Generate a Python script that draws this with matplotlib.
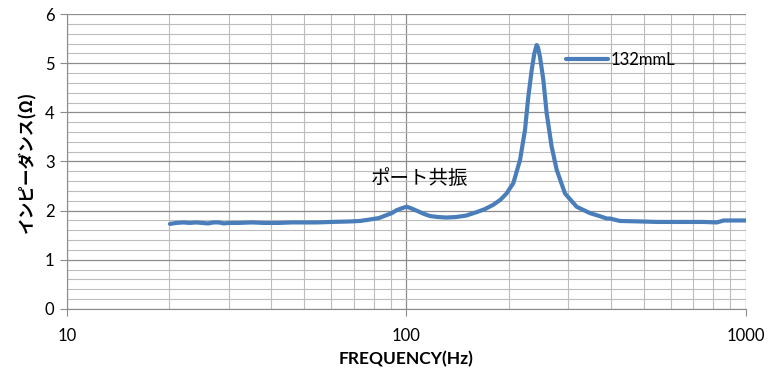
import numpy as np
import matplotlib.pyplot as plt
from matplotlib.ticker import FixedLocator, LogLocator, NullFormatter

# impedance curve
freq = [20.1, 21, 22, 23, 24, 25, 26, 27, 28, 29, 30, 32, 35, 38, 42, 46, 50, 54.4,
        60, 68.2, 73, 78.1, 83, 87.4, 90.5, 93.6, 97, 100.1, 103, 107.1, 112, 117.3,
        124, 131, 140, 150, 161, 170, 180.2, 189, 197.2, 206.4, 216, 223.4, 228.5,
        233.8, 238, 241.8, 244, 247.3, 253, 258.8, 267.7, 277, 293, 317, 347, 370,
        389, 397.6, 425, 487, 550, 650, 750, 820, 860, 920, 1000]
imp = [1.73, 1.75, 1.76, 1.75, 1.76, 1.75, 1.74, 1.76, 1.76, 1.74, 1.75, 1.75, 1.76,
       1.75, 1.75, 1.76, 1.76, 1.76, 1.77, 1.78, 1.79, 1.82, 1.85, 1.91, 1.95, 2.01,
       2.05, 2.08, 2.05, 2.00, 1.94, 1.89, 1.87, 1.86, 1.87, 1.90, 1.97, 2.03, 2.12,
       2.22, 2.35, 2.56, 3.03, 3.64, 4.32, 4.86, 5.20, 5.37, 5.32, 5.13, 4.66, 3.98,
       3.30, 2.83, 2.35, 2.08, 1.95, 1.89, 1.84, 1.84, 1.79, 1.78, 1.77, 1.77, 1.77,
       1.76, 1.80, 1.80, 1.80]

series_name = '132mmL'
x_ticks = [10, 100, 1000]
y_ticks = [0, 1, 2, 3, 4, 5, 6]

jp = ['Noto Sans CJK JP', 'DejaVu Sans']

fig = plt.figure(figsize=(7.79, 3.80), dpi=100)
ax = fig.add_axes([0.086, 0.187, 0.8716, 0.776])

ax.plot(freq, imp, color='#4a7ebb', lw=3.0, label=series_name, solid_capstyle='round')

ax.set_xscale('log')
ax.set_xlim(10, 1000)
ax.set_ylim(0, 6)

ax.xaxis.set_major_locator(FixedLocator(x_ticks))
ax.set_xticklabels([str(v) for v in x_ticks])
ax.xaxis.set_minor_locator(LogLocator(base=10, subs=np.arange(2, 10)))
ax.xaxis.set_minor_formatter(NullFormatter())
ax.set_yticks(y_ticks)
ax.yaxis.set_minor_locator(FixedLocator(np.arange(0, 6.01, 0.2)))

ax.grid(which='major', color='#8c8c8c', lw=0.9)
ax.grid(which='minor', color='#bdbdbd', lw=0.8)
ax.set_axisbelow(True)

ax.tick_params(which='major', length=5, color='#8c8c8c', labelsize=12, pad=4)
ax.tick_params(which='minor', length=0)
for lab in ax.get_xticklabels() + ax.get_yticklabels():
    lab.set_family('Lato')
ax.tick_params(axis='x', pad=9)

for side in ['top', 'right']:
    ax.spines[side].set_visible(False)
for side in ['left', 'bottom']:
    ax.spines[side].set_color('#8c8c8c')

ax.set_xlabel('FREQUENCY(Hz)', fontsize=12.5, fontweight='bold', family='Lato', labelpad=5)
ax.set_ylabel('インピーダンス(Ω)', fontsize=12, fontweight='bold', family=jp, labelpad=6)

ax.text(78.6, 2.66, 'ポート共振', fontsize=14, family=jp, ha='left', va='center')

ax.legend(loc='center left', bbox_to_anchor=(0.735, 0.844), frameon=False,
          handlelength=2.5, handletextpad=0.15, borderpad=0, borderaxespad=0,
          prop={'family': 'Lato', 'size': 12})

fig.savefig('out.png', dpi=100)
